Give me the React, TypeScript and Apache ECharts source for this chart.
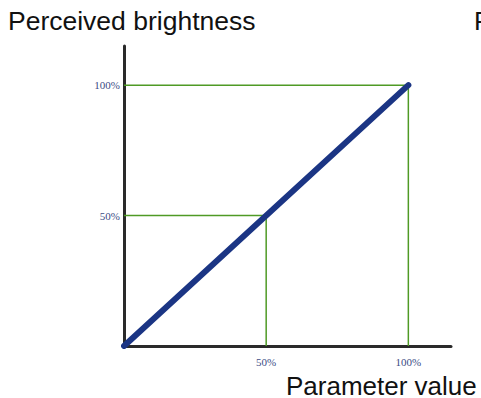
import React, { useEffect, useRef } from "react";
import * as echarts from "echarts";

const guideValues = [50, 100];
const tickLabels = ["50%", "100%"];
const diagonal = [[0, 0], [100, 100]];
const yAxisName = "Perceived brightness";
const xAxisName = "Parameter value";
const clippedText = "P";

export default function App() {
  const ref = useRef<HTMLDivElement>(null);
  useEffect(() => {
    if (!ref.current) return;
    const chart = echarts.init(ref.current, null, { renderer: "svg" });
    const labelFor = (v: number) => {
      const i = guideValues.indexOf(v);
      return i >= 0 ? tickLabels[i] : "";
    };
    const guides = guideValues.map((v) => ({
      type: "line",
      data: [[0, v], [v, v], [v, 0]],
      symbol: "none",
      silent: true,
      lineStyle: { color: "#4f9a25", width: 1.5 },
      z: 2,
    }));
    const labelStyle = {
      formatter: labelFor,
      showMaxLabel: false,
      showMinLabel: false,
      color: "#3b4c85",
      fontFamily: "Liberation Serif",
      fontSize: 11,
    };
    chart.setOption({
      animation: false,
      grid: { left: 124, right: 30, top: 46, bottom: 52 },
      xAxis: {
        type: "value",
        min: 0,
        max: 115,
        interval: 50,
        splitLine: { show: false },
        axisTick: { show: false },
        axisLine: { show: true, lineStyle: { color: "#2a2a2a", width: 3 } },
        axisLabel: { ...labelStyle, margin: 10 },
      },
      yAxis: {
        type: "value",
        min: 0,
        max: 115,
        interval: 50,
        splitLine: { show: false },
        axisTick: { show: false },
        axisLine: { show: true, lineStyle: { color: "#2a2a2a", width: 3 } },
        axisLabel: { ...labelStyle, margin: 4 },
      },
      graphic: [
        {
          type: "text",
          left: 8,
          y: 21,
          style: {
            text: yAxisName,
            fill: "#111",
            font: "26.5px 'Liberation Sans', Arial, sans-serif",
            textVerticalAlign: "middle",
          },
        },
        {
          type: "text",
          x: 286,
          y: 386,
          style: {
            text: xAxisName,
            fill: "#111",
            font: "26px 'Liberation Sans', Arial, sans-serif",
            textVerticalAlign: "middle",
          },
        },
        {
          type: "text",
          x: 474,
          y: 21,
          style: {
            text: clippedText,
            fill: "#111",
            font: "26px 'Liberation Sans', Arial, sans-serif",
            textVerticalAlign: "middle",
          },
        },
      ],
      series: [
        ...guides,
        {
          type: "line",
          data: diagonal,
          symbol: "none",
          silent: true,
          lineStyle: { color: "#1b3584", width: 6, cap: "round" },
          z: 3,
        },
      ],
    });
    return () => chart.dispose();
  }, []);
  return (
    <div
      ref={ref}
      style={{ position: "fixed", left: 0, top: 0, width: 481, height: 398, background: "#fff" }}
    />
  );
}
